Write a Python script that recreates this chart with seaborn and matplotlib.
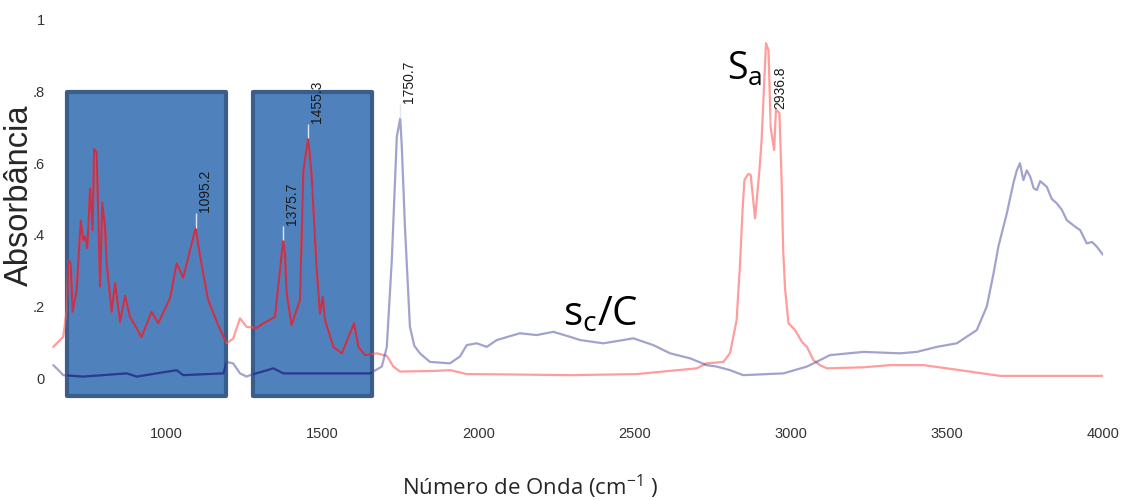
import matplotlib
matplotlib.use("Agg")
import matplotlib.pyplot as plt
import seaborn as sns
import pandas as pd
from matplotlib.patches import Rectangle

# ---------------- data ----------------
red_wn = [639, 671, 682, 687, 695, 701, 714, 727, 735, 741, 748, 757, 765, 770, 778,
          789, 796, 805, 810, 826, 837, 853, 869, 885, 922, 954, 975, 1013, 1034, 1055,
          1095, 1109, 1135, 1167, 1194, 1215, 1237, 1258, 1290, 1312, 1349, 1375, 1381,
          1386, 1402, 1429, 1440, 1455, 1466, 1482, 1493, 1502, 1509, 1536, 1563, 1589,
          1602, 1616, 1637, 1675, 1707, 1728, 1749, 1867, 1910, 1963, 2100, 2294, 2507,
          2614, 2699, 2731, 2785, 2806, 2827, 2838, 2846, 2852, 2864, 2872, 2886, 2900,
          2907, 2921, 2929, 2936, 2947, 2953, 2964, 2971, 2976, 2982, 2993, 3014, 3036,
          3052, 3073, 3094, 3116, 3233, 3318, 3425, 3542, 3670, 3831, 4000]
red_abs = [0.087, 0.115, 0.19, 0.33, 0.32, 0.185, 0.245, 0.44, 0.385, 0.395, 0.363, 0.53,
           0.413, 0.64, 0.63, 0.255, 0.49, 0.42, 0.32, 0.185, 0.265, 0.157, 0.23, 0.17,
           0.115, 0.185, 0.153, 0.223, 0.32, 0.28, 0.42, 0.34, 0.218, 0.148, 0.097, 0.11,
           0.167, 0.143, 0.14, 0.153, 0.171, 0.385, 0.348, 0.24, 0.148, 0.218, 0.58, 0.67,
           0.57, 0.31, 0.18, 0.227, 0.162, 0.087, 0.069, 0.125, 0.153, 0.087, 0.064, 0.069,
           0.062, 0.032, 0.018, 0.02, 0.022, 0.011, 0.01, 0.008, 0.011, 0.02, 0.027, 0.041,
           0.045, 0.07, 0.162, 0.32, 0.47, 0.553, 0.57, 0.567, 0.446, 0.58, 0.665, 0.935,
           0.916, 0.70, 0.637, 0.75, 0.74, 0.553, 0.357, 0.25, 0.153, 0.134, 0.101, 0.087,
           0.05, 0.036, 0.027, 0.03, 0.036, 0.036, 0.022, 0.006, 0.006, 0.006]

blue_wn = [639, 650, 671, 735, 874, 906, 1034, 1055, 1184, 1194, 1215, 1237, 1258, 1269,
           1344, 1376, 1653, 1691, 1707, 1723, 1739, 1750, 1755, 1765, 1781, 1795, 1813,
           1845, 1909, 1941, 1963, 1995, 2027, 2059, 2133, 2187, 2240, 2294, 2326, 2400,
           2464, 2496, 2560, 2614, 2678, 2731, 2763, 2806, 2848, 2977, 3052, 3094, 3126,
           3233, 3350, 3404, 3468, 3532, 3596, 3628, 3649, 3665, 3692, 3713, 3724, 3734,
           3745, 3756, 3767, 3778, 3788, 3799, 3820, 3836, 3852, 3868, 3884, 3900, 3915,
           3927, 3948, 3965, 3980, 4000]
blue_abs = [0.036, 0.027, 0.008, 0.004, 0.013, 0.004, 0.022, 0.008, 0.013, 0.045, 0.041,
            0.013, 0.004, 0.008, 0.027, 0.013, 0.013, 0.032, 0.087, 0.33, 0.674, 0.725,
            0.646, 0.423, 0.143, 0.09, 0.069, 0.045, 0.041, 0.06, 0.092, 0.097, 0.087,
            0.106, 0.125, 0.12, 0.129, 0.115, 0.106, 0.097, 0.106, 0.111, 0.092, 0.069,
            0.055, 0.036, 0.032, 0.022, 0.008, 0.013, 0.032, 0.05, 0.064, 0.073, 0.069,
            0.073, 0.087, 0.097, 0.134, 0.2, 0.29, 0.367, 0.46, 0.544, 0.58, 0.6, 0.553,
            0.58, 0.562, 0.53, 0.525, 0.55, 0.534, 0.5, 0.488, 0.47, 0.441, 0.43, 0.42,
            0.413, 0.376, 0.38, 0.367, 0.344]

peak_labels = ["1095.2", "1375.7", "1455.3", "1750.7", "2936.8"]
peak_wn = [1095.2, 1375.7, 1455.3, 1750.7, 2936.8]
peak_abs = [0.42, 0.385, 0.67, 0.725, 0.71]

highlight_ranges = [(683, 1192), (1279, 1660)]
highlight_bottom, highlight_top = -0.05, 0.80

x_ticks = [1000, 1500, 2000, 2500, 3000, 3500, 4000]
x_tick_labels = ["1000", "1500", "2000", "2500", "3000", "3500", "4000"]
y_ticks = [0, 0.2, 0.4, 0.6, 0.8, 1.0]
y_tick_labels = ["0", ".2", ".4", ".6", ".8", "1"]

df_red = pd.DataFrame({"wn": red_wn, "abs": red_abs})
df_blue = pd.DataFrame({"wn": blue_wn, "abs": blue_abs})

# ---------------- style ----------------
sns.set_theme(style="white")
plt.rcParams["font.family"] = ["Liberation Sans", "DejaVu Sans"]
plt.rcParams["mathtext.fontset"] = "custom"
plt.rcParams["mathtext.rm"] = "Open Sans"
plt.rcParams["mathtext.it"] = "Open Sans:italic"

fig = plt.figure(figsize=(11.23, 5.01), dpi=100)
ax = fig.add_axes([0.0449, 0.1597, 0.9373, 0.829])

rects = []
for x0, x1 in highlight_ranges:
    r = Rectangle((x0, highlight_bottom), x1 - x0, highlight_top - highlight_bottom,
                  facecolor="#4F81BD", edgecolor="#3A5E8C", linewidth=3.0,
                  joinstyle="round", zorder=1)
    ax.add_patch(r)
    rects.append(r)

red_col = "#ff5c5c"
blue_col = "#4646a0"
sns.lineplot(data=df_red, x="wn", y="abs", color=red_col, alpha=0.6, lw=1.6,
             estimator=None, sort=False, ax=ax, zorder=3)
sns.lineplot(data=df_blue, x="wn", y="abs", color=blue_col, alpha=0.5, lw=1.6,
             estimator=None, sort=False, ax=ax, zorder=3)

# darker rendering of the curves where they cross the highlight boxes
for r in rects:
    sns.lineplot(data=df_red, x="wn", y="abs", color="#c42a44", alpha=0.85, lw=1.5,
                 estimator=None, sort=False, ax=ax, zorder=4)
    ax.lines[-1].set_clip_path(r)
    sns.lineplot(data=df_blue, x="wn", y="abs", color="#27328c", alpha=0.85, lw=1.5,
                 estimator=None, sort=False, ax=ax, zorder=4)
    ax.lines[-1].set_clip_path(r)

# peak annotations
ax.vlines(peak_wn, peak_abs, [p + 0.04 for p in peak_abs], color="#dfe6f2", lw=1.0, zorder=5)
for lab, xw, ya in zip(peak_labels, peak_wn, peak_abs):
    ax.annotate(lab, xy=(xw, ya), xytext=(6.5, 11), textcoords="offset points",
                rotation=90, ha="center", va="bottom", fontsize=10, color="#1a1a1a",
                zorder=6)

ax.text(2796, 0.832, r"S$_\mathregular{a}$", fontsize=27, family="Open Sans",
        ha="left", va="baseline", color="black")
ax.text(2271, 0.148, r"s$_\mathregular{c}$/C", fontsize=29, family="Open Sans",
        ha="left", va="baseline", color="black")

ax.set_xlim(630, 4000)
ax.set_ylim(-0.12, 1.04)
ax.set_xticks(x_ticks)
ax.set_xticklabels(x_tick_labels)
ax.set_yticks(y_ticks)
ax.set_yticklabels(y_tick_labels)
ax.tick_params(length=0, labelsize=10.5, colors="#333333", pad=4)
ax.set_xlabel("")
ax.set_ylabel("")
for s in ax.spines.values():
    s.set_visible(False)

fig.text(530 / 1123, 1 - 495 / 501, r"Número de Onda (cm$^{\mathregular{-1}}$ )",
         family="Open Sans", fontsize=16, ha="center", va="baseline")
fig.text(19 / 1123, 1 - 195 / 501, "Absorbância", rotation=90, fontsize=23.5,
         ha="center", va="center")

fig.savefig("out.png", dpi=100)
